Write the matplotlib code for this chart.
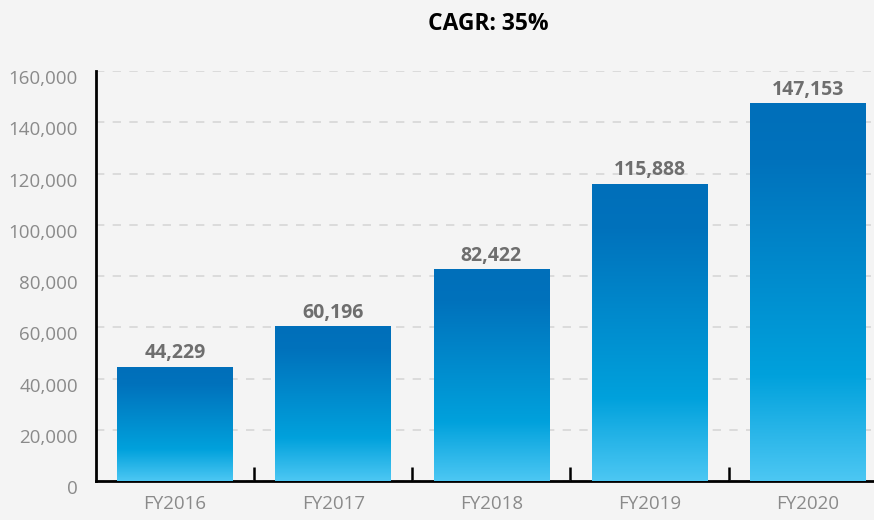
import numpy as np
import matplotlib
matplotlib.use("Agg")
import matplotlib.pyplot as plt
import matplotlib.transforms as mtransforms
from matplotlib.colors import LinearSegmentedColormap

# data
years = ["FY2016", "FY2017", "FY2018", "FY2019", "FY2020"]
values = [44229, 60196, 82422, 115888, 147153]
value_labels = ["44,229", "60,196", "82,422", "115,888", "147,153"]
yticks = [0, 20000, 40000, 60000, 80000, 100000, 120000, 140000, 160000]
ytick_labels = ["0", "20,000", "40,000", "60,000", "80,000",
                "100,000", "120,000", "140,000", "160,000"]
title = "CAGR: 35%"

plt.rcParams['font.family'] = ['Open Sans', 'Noto Sans', 'DejaVu Sans']

bg = "#f4f4f4"
fig = plt.figure(figsize=(8.74, 5.2), dpi=100, facecolor=bg)
ax = fig.add_axes([96 / 874, 39 / 520, 1 - 96 / 874, 410 / 520])
ax.set_facecolor(bg)

# vertical gradient, bottom -> top
cmap = LinearSegmentedColormap.from_list(
    "bar", [(0.0, "#4cc7f3"), (0.28, "#00a1dc"), (0.85, "#0072bc"), (1.0, "#006fba")])
grad = np.linspace(0, 1, 256).reshape(-1, 1)

width = 0.73
x = np.arange(len(years))
for xi, v in zip(x, values):
    ax.imshow(grad, cmap=cmap, origin="lower", aspect="auto",
              extent=[xi - width / 2, xi + width / 2, 0, v], zorder=3,
              interpolation="bicubic")

for xi, v, lab in zip(x, values, value_labels):
    ax.annotate(lab, (xi, v), xytext=(0, 3), textcoords="offset points",
                ha="center", va="bottom", fontsize=14, fontweight="bold",
                color="#6e6e6e")

ax.set_xlim(-0.5, 4.42)
ax.set_ylim(0, 160000)

ax.set_yticks(yticks)
ax.set_yticklabels(ytick_labels)
ax.tick_params(axis="y", length=0, pad=13, labelsize=13.5, labelcolor="#8a8a8a")
offset = mtransforms.ScaledTranslation(0, -6 / 100, fig.dpi_scale_trans)
for lbl in ax.get_yticklabels():
    lbl.set_transform(lbl.get_transform() + offset)

ax.set_xticks(x)
ax.set_xticklabels(years)
ax.tick_params(axis="x", which="major", length=0, pad=10, labelsize=13.5,
               labelcolor="#8a8a8a")
ax.set_xticks(x[:-1] + 0.5, minor=True)
ax.tick_params(axis="x", which="minor", direction="in", length=10, width=1.8,
               color="black")

ax.grid(axis="y", color="#d6d6d6", linestyle=(0, (5, 5)), linewidth=1.2)
ax.set_axisbelow(True)

for s in ["top", "right"]:
    ax.spines[s].set_visible(False)
ax.spines["left"].set_linewidth(2)
ax.spines["bottom"].set_linewidth(2)
ax.spines["bottom"].set_zorder(2)

fig.text(488 / 874, 1 - 24 / 520, title, ha="center", va="center",
         fontsize=16.5, fontweight="bold", color="black")

fig.savefig("out.png", dpi=100, facecolor=bg)
